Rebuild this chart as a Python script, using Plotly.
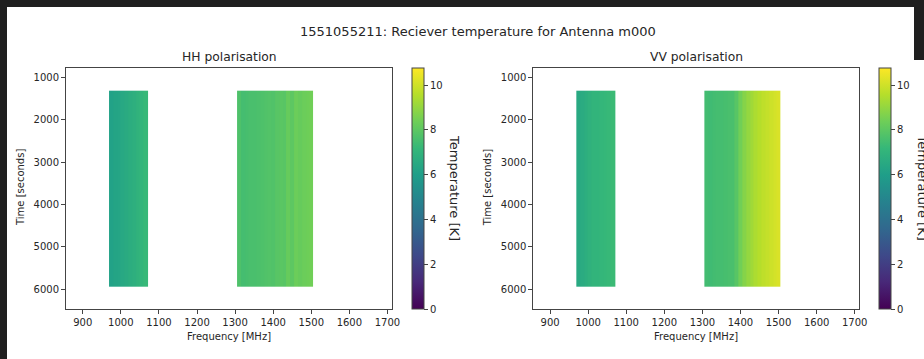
import plotly.graph_objects as go

W, H = 924, 359

# ---------------- data ----------------
# frequency channel edges (MHz): lower band, gap, upper band
freq_edges_low = [969, 979, 989, 999, 1009, 1019, 1029, 1039, 1049, 1059, 1072]
freq_edges_high = [1305, 1315, 1325, 1335, 1345, 1355, 1365, 1375, 1385, 1395, 1405,
                   1415, 1425, 1435, 1445, 1455, 1465, 1475, 1485, 1495, 1504]
time_edges = [1316, 5940]  # seconds

hh_low = [6.15, 6.25, 6.3, 6.45, 6.55, 6.7, 6.8, 6.95, 7.05, 7.2]
hh_high = [7.7, 7.5, 7.55, 7.6, 7.6, 7.65, 7.7, 7.75, 7.8, 7.75,
           7.9, 7.95, 7.9, 8.2, 8.0, 8.3, 8.2, 8.3, 8.35, 8.4]
vv_low = [6.5, 6.6, 6.75, 6.9, 7.0, 7.0, 7.1, 7.15, 7.2, 7.3]
vv_high = [7.45, 7.4, 7.45, 7.5, 7.5, 7.55, 7.6, 7.6, 7.9, 8.4,
           8.75, 9.0, 9.2, 9.4, 9.55, 9.7, 9.8, 9.95, 10.05, 10.15]

freq_range = [856, 1712]
time_range = [6472, 788]
temp_range = [0, 10.75]
cbar_ticks = [0, 2, 4, 6, 8, 10]
x_ticks = [900, 1000, 1100, 1200, 1300, 1400, 1500, 1600, 1700]
y_ticks = [1000, 2000, 3000, 4000, 5000, 6000]

title = "1551055211: Reciever temperature for Antenna m000"
panel_titles = ["HH polarisation", "VV polarisation"]

# ---------------- layout helpers ----------------
def px(x):
    return x / W

def py(y):
    return 1 - y / H

FONT = "DejaVu Sans"
TXT = "#262626"
DARK = "#1f1f1f"

x_edges = freq_edges_low + freq_edges_high
fig = go.Figure()

panels = [
    dict(z=hh_low + [None] + hh_high, xa="x", ya="y", left=66, right=392, cb=411.7, cbl=455),
    dict(z=vv_low + [None] + vv_high, xa="x2", ya="y2", left=533.3, right=859.3, cb=879.3, cbl=923.4),
]
top, bottom = 68.3, 309.3

for i, p in enumerate(panels):
    fig.add_trace(go.Heatmap(
        x=x_edges, y=time_edges, z=[p["z"]],
        xaxis=p["xa"], yaxis=p["ya"],
        colorscale="Viridis", zmin=temp_range[0], zmax=temp_range[1],
        hoverongaps=False,
        colorbar=dict(
            x=px(p["cb"]), xanchor="left", xpad=0, ypad=0,
            y=py(top), yanchor="top", len=(bottom - top) / H, lenmode="fraction",
            thickness=12, outlinewidth=1, outlinecolor="#444",
            tickvals=cbar_ticks, ticks="outside", ticklen=4, tickcolor="#444",
            tickfont=dict(family=FONT, size=10, color=TXT),
        ),
    ))
    sfx = "" if i == 0 else "2"
    axis_common = dict(showline=True, mirror=True, linecolor="#444", linewidth=1,
                       ticks="outside", ticklen=4, tickcolor="#444", showgrid=False,
                       zeroline=False, tickfont=dict(family=FONT, size=10, color=TXT))
    fig.update_layout(**{
        "xaxis" + sfx: dict(domain=[px(p["left"]), px(p["right"])], range=freq_range,
                            tickvals=x_ticks, anchor="y" + sfx, **axis_common),
        "yaxis" + sfx: dict(domain=[py(bottom), py(top)], range=time_range,
                            tickvals=y_ticks, anchor="x" + sfx, **axis_common),
    })
    cx = (p["left"] + p["right"]) / 2
    fig.add_annotation(x=px(cx), y=py(57), xref="paper", yref="paper", text=panel_titles[i],
                       showarrow=False, font=dict(family=FONT, size=12.3, color=TXT),
                       xanchor="center", yanchor="middle")
    fig.add_annotation(x=px(cx), y=py(336.5), xref="paper", yref="paper", text="Frequency [MHz]",
                       showarrow=False, font=dict(family=FONT, size=10, color=TXT),
                       xanchor="center", yanchor="middle")
    fig.add_annotation(x=px(p["left"] - 46), y=py(188), xref="paper", yref="paper",
                       text="Time [seconds]", textangle=-90,
                       showarrow=False, font=dict(family=FONT, size=10, color=TXT),
                       xanchor="center", yanchor="middle")
    fig.add_annotation(x=px(p["cbl"]), y=py(188), xref="paper", yref="paper",
                       text="Temperature [K]", textangle=90,
                       showarrow=False, font=dict(family=FONT, size=13, color=TXT),
                       xanchor="center", yanchor="middle")

fig.add_annotation(x=px(478), y=py(31), xref="paper", yref="paper", text=title,
                   showarrow=False, font=dict(family=FONT, size=13, color=TXT),
                   xanchor="center", yanchor="middle")

# white notebook output area over dark page
fig.add_shape(type="rect", xref="paper", yref="paper", x0=px(7), x1=1.0, y0=0, y1=py(7),
              fillcolor="white", line=dict(width=0), layer="below")
fig.add_shape(type="rect", xref="paper", yref="paper", x0=px(914), x1=1.0, y0=py(60), y1=1.0,
              fillcolor=DARK, line=dict(width=0), layer="below")

fig.update_layout(
    width=W, height=H, margin=dict(l=0, r=0, t=0, b=0, autoexpand=False),
    paper_bgcolor=DARK, plot_bgcolor="white", showlegend=False,
)

fig.write_html("out.html")
